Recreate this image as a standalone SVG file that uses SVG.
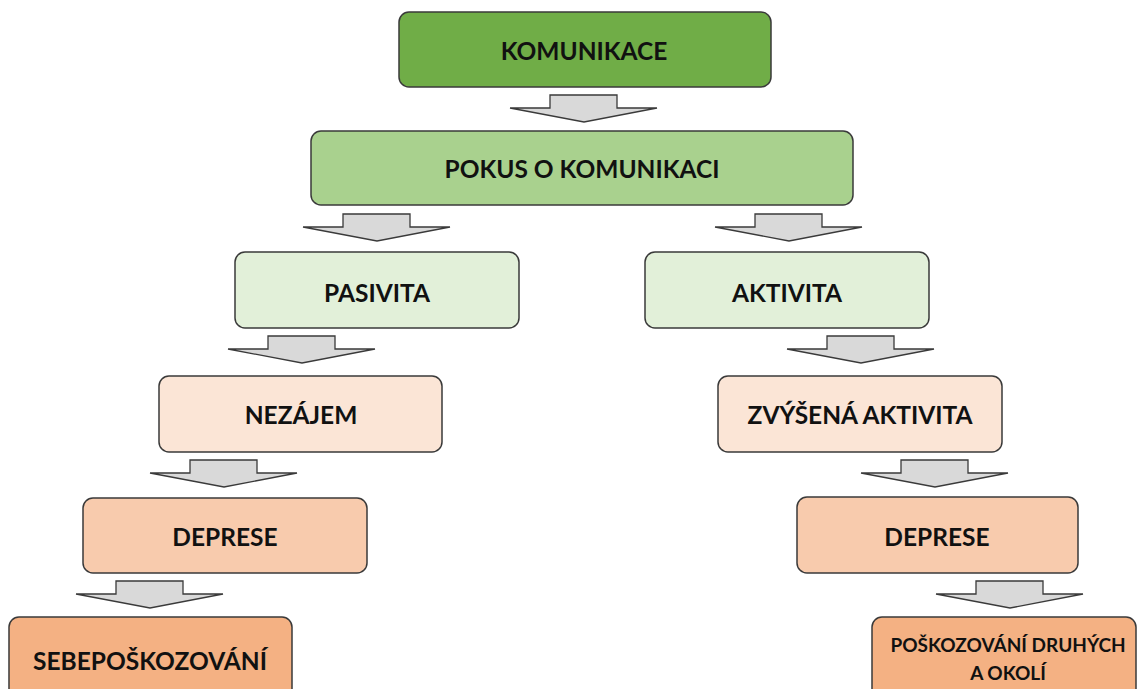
<svg xmlns="http://www.w3.org/2000/svg" width="1140" height="689" viewBox="0 0 1140 689">
  <style>
    .box { stroke: #3a3a3a; stroke-width: 1.5; }
    .l1 { fill: #70ad47; }
    .l2 { fill: #a9d18e; }
    .l3 { fill: #e2f0d9; }
    .l4 { fill: #fbe5d6; }
    .l5 { fill: #f8cbad; }
    .l6 { fill: #f4b183; }
    .lbl { font-family: Lato, "Liberation Sans", sans-serif; font-weight: bold; font-size: 24.5px; fill: #111; text-anchor: middle; dominant-baseline: central; }
    .sm { font-size: 19px; }
    .arr { fill: #d9d9d9; stroke: #3a3a3a; stroke-width: 1.3; stroke-linejoin: miter; }
  </style>
  <defs>
    <!-- block arrow pointing down, origin at tip-centre top -->
    <path id="down" d="M-34,0 H33 V13 H73 L0,27 L-74,13 H-34 Z"/>
  </defs>
  <rect width="1140" height="689" fill="#ffffff"/>

  <g id="connectors">
    <use href="#down" class="arr" x="584" y="95"/>
    <use href="#down" class="arr" x="377" y="214"/>
    <use href="#down" class="arr" x="789" y="214"/>
    <use href="#down" class="arr" x="302" y="336"/>
    <use href="#down" class="arr" x="861" y="336"/>
    <use href="#down" class="arr" x="224" y="460"/>
    <use href="#down" class="arr" x="935" y="460"/>
    <use href="#down" class="arr" x="150" y="581"/>
    <use href="#down" class="arr" x="1010" y="581"/>
  </g>

  <g id="komunikace">
    <rect class="box l1" x="399" y="12" width="372" height="75" rx="10"/>
    <text class="lbl" x="584" y="50">KOMUNIKACE</text>
  </g>
  <g id="pokus">
    <rect class="box l2" x="311" y="131" width="542" height="74" rx="10"/>
    <text class="lbl" x="582" y="168">POKUS O KOMUNIKACI</text>
  </g>
  <g id="pasivita">
    <rect class="box l3" x="235" y="252" width="284" height="76" rx="10"/>
    <text class="lbl" x="377" y="292">PASIVITA</text>
  </g>
  <g id="aktivita">
    <rect class="box l3" x="645" y="252" width="284" height="76" rx="10"/>
    <text class="lbl" x="787" y="292">AKTIVITA</text>
  </g>
  <g id="nezajem">
    <rect class="box l4" x="159" y="376" width="283" height="76" rx="10"/>
    <text class="lbl" x="301" y="414">NEZÁJEM</text>
  </g>
  <g id="zvysena-aktivita">
    <rect class="box l4" x="718" y="376" width="284" height="76" rx="10"/>
    <text class="lbl" x="860" y="414">ZVÝŠENÁ AKTIVITA</text>
  </g>
  <g id="deprese-left">
    <rect class="box l5" x="83" y="498" width="284" height="75" rx="10"/>
    <text class="lbl" x="225" y="536">DEPRESE</text>
  </g>
  <g id="deprese-right">
    <rect class="box l5" x="797" y="497" width="281" height="76" rx="10"/>
    <text class="lbl" x="937" y="536">DEPRESE</text>
  </g>
  <g id="sebeposkozovani">
    <rect class="box l6" x="9" y="617" width="283" height="90" rx="10"/>
    <text class="lbl" x="150" y="660">SEBEPOŠKOZOVÁNÍ</text>
  </g>
  <g id="poskozovani-druhych">
    <rect class="box l6" x="872" y="617" width="264" height="90" rx="10"/>
    <text class="lbl sm" x="1008" y="644">POŠKOZOVÁNÍ DRUHÝCH</text>
    <text class="lbl sm" x="1008" y="672">A OKOLÍ</text>
  </g>
</svg>
